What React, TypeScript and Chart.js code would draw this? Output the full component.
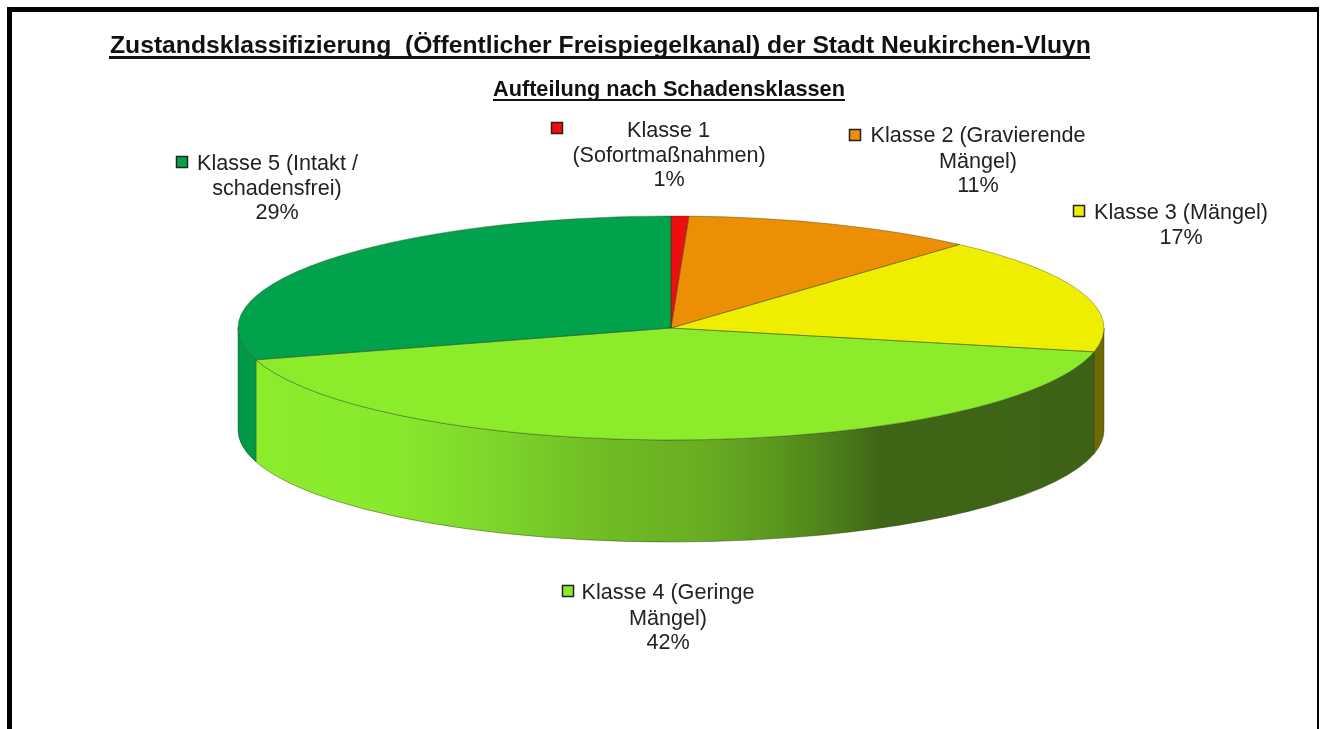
import React, { useEffect, useRef } from "react";
import { Chart, registerables } from "chart.js";

Chart.register(...registerables);

const categories = [
  "Klasse 1 (Sofortmaßnahmen)",
  "Klasse 2 (Gravierende Mängel)",
  "Klasse 3 (Mängel)",
  "Klasse 4 (Geringe Mängel)",
  "Klasse 5 (Intakt / schadensfrei)",
];
// slice sizes
const values = [0.66, 10.95, 16.8, 42, 29.59];
// percentages as printed on the labels
const percentLabels = ["1%", "11%", "17%", "42%", "29%"];
const topColors = ["#ED0F0F", "#EC8F04", "#F0EE00", "#8CEC2C", "#00A24B"];
const wallColors = ["#7A0E0B", "#7A4A02", "#6E6A00", "#8CEC2C", "#009A47"];
const labelLines = [
  ["Klasse 1", "(Sofortmaßnahmen)"],
  ["Klasse 2 (Gravierende", "Mängel)"],
  ["Klasse 3 (Mängel)"],
  ["Klasse 4 (Geringe", "Mängel)"],
  ["Klasse 5 (Intakt /", "schadensfrei)"],
];
const titleText = "Zustandsklassifizierung  (Öffentlicher Freispiegelkanal) der Stadt Neukirchen-Vluyn";
const subtitleText = "Aufteilung nach Schadensklassen";

const CX = 671, CY = 328, RX = 433, RY = 112, DEPTH = 102;
const labelPlace = [
  { ys: [131, 156, 180], key: [557, 128] },
  { ys: [136, 162, 186], key: [855, 135] },
  { ys: [213, 238], key: [1079, 211] },
  { ys: [593, 619, 643], key: [568, 591] },
  { ys: [164, 189, 213], key: [182, 162] },
];
const lineCentres = [
  [668.5, 669, 669],
  [978, 978, 978],
  [1181, 1181],
  [668, 668, 668],
  [277.5, 277, 277],
];

const pie3d = {
  id: "pie3d",
  beforeDatasetsDraw(chart: any) {
    const ctx = chart.ctx;
    const arcs = chart.getDatasetMeta(0).data;
    arcs.forEach((a: any, i: number) => {
      const start = Math.max(a.startAngle, 0);
      const end = Math.min(a.endAngle, Math.PI);
      if (end <= start) return;
      ctx.save();
      ctx.beginPath();
      ctx.ellipse(CX, CY, RX, RY, 0, start, end);
      ctx.ellipse(CX, CY + DEPTH, RX, RY, 0, end, start, true);
      ctx.closePath();
      if (i === 3) {
        const g = ctx.createLinearGradient(255, 0, 1097, 0);
        g.addColorStop(0, "#8CEC2C");
        g.addColorStop(0.172, "#88E82C");
        g.addColorStop(0.291, "#7ED42B");
        g.addColorStop(0.41, "#70BC25");
        g.addColorStop(0.528, "#68AE22");
        g.addColorStop(0.61, "#5C9A1E");
        g.addColorStop(0.683, "#4E801A");
        g.addColorStop(0.742, "#3F6616");
        g.addColorStop(1, "#3D6216");
        ctx.fillStyle = g;
      } else {
        ctx.fillStyle = wallColors[i];
      }
      ctx.fill();
      ctx.lineWidth = 0.6;
      ctx.strokeStyle = "rgba(40,50,20,0.7)";
      ctx.stroke();
      ctx.restore();
    });
    const r = arcs[0].outerRadius;
    ctx.save();
    ctx.translate(CX, CY);
    ctx.scale(RX / r, RY / r);
    ctx.translate(-arcs[0].x, -arcs[0].y);
  },
  afterDatasetsDraw(chart: any) {
    const ctx = chart.ctx;
    ctx.restore();
    chart.getDatasetMeta(0).data.forEach((a: any) => {
      ctx.beginPath();
      ctx.moveTo(CX, CY);
      ctx.ellipse(CX, CY, RX, RY, 0, a.startAngle, a.endAngle);
      ctx.closePath();
      ctx.lineWidth = 0.6;
      ctx.strokeStyle = "rgba(40,50,20,0.6)";
      ctx.stroke();
    });
  },
  afterDraw(chart: any) {
    const ctx = chart.ctx;
    ctx.save();
    ctx.fillStyle = "#000";
    ctx.fillRect(7, 7, 1312, 5);
    ctx.fillRect(7, 7, 5, 722);
    ctx.fillRect(1317, 7, 2, 722);

    ctx.textBaseline = "middle";
    ctx.fillStyle = "#111";
    ctx.textAlign = "left";
    ctx.font = 'bold 24.7px "Liberation Sans"';
    ctx.fillText(titleText, 110, 46);
    ctx.fillRect(109, 56, 981, 3);
    ctx.font = 'bold 21.7px "Liberation Sans"';
    ctx.fillText(subtitleText, 493, 90);
    ctx.fillRect(493, 99, 352, 2);

    ctx.textAlign = "center";
    ctx.font = '21.6px "Liberation Sans"';
    ctx.fillStyle = "#222";
    categories.forEach((_, i) => {
      const place = labelPlace[i];
      const lines = [...labelLines[i], percentLabels[i]];
      lines.forEach((line, j) => ctx.fillText(line, lineCentres[i][j], place.ys[j]));
      ctx.fillStyle = topColors[i];
      ctx.fillRect(place.key[0] - 5.5, place.key[1] - 5.5, 11, 11);
      ctx.lineWidth = 1.5;
      ctx.strokeStyle = "#222";
      ctx.strokeRect(place.key[0] - 5.5, place.key[1] - 5.5, 11, 11);
      ctx.fillStyle = "#222";
    });
    ctx.restore();
  },
};

export default function App() {
  const ref = useRef<HTMLCanvasElement>(null);
  useEffect(() => {
    const chart = new Chart(ref.current!, {
      type: "pie",
      data: {
        labels: categories,
        datasets: [{ data: values, backgroundColor: topColors, borderWidth: 0 }],
      },
      options: {
        animation: false,
        responsive: false,
        plugins: { legend: { display: false }, tooltip: { enabled: false } },
      },
      plugins: [pie3d],
    } as any);
    return () => chart.destroy();
  }, []);
  return (
    <div style={{ position: "absolute", left: 0, top: 0, width: 1320, height: 729, background: "#fff" }}>
      <canvas ref={ref} width={1320} height={729} style={{ display: "block" }} />
    </div>
  );
}
